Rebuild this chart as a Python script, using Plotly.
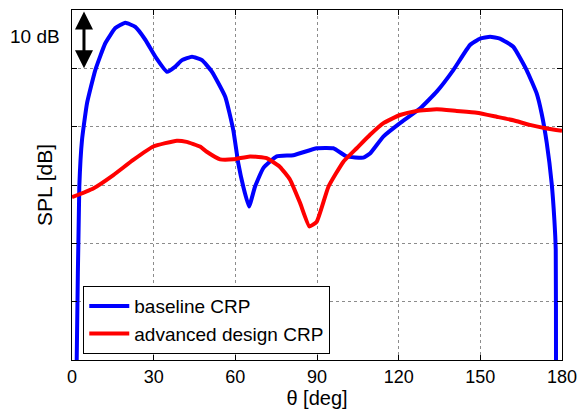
import plotly.graph_objects as go

# Directivity of the sound pressure level over polar angle (relative dB, 10 dB per grid step)
theta_baseline = [1.65, 1.73, 2.68, 3.67, 5.51, 8.56, 12.23, 15.91, 19.58, 23.25, 26.93, 30.60,
                  34.90, 37.95, 40.41, 44.08, 47.76, 51.43, 56.32, 59.25, 61.09, 62.93, 65.02,
                  67.22, 70.27, 75.20, 81.30, 89.89, 95.99, 100.91, 107.01, 109.47, 114.36,
                  120.49, 127.84, 133.97, 140.07, 146.2, 149.9, 153.6, 157.2, 162.1, 167.0,
                  170.7, 172.5, 174.4, 176.2, 177.2, 177.7, 177.8, 177.9]
spl_baseline = [-7, 0, 29.7, 37.7, 44.0, 49.7, 54.3, 56.9, 57.8, 57.1, 54.9, 52.0,
                49.4, 50.3, 51.4, 52.0, 51.4, 49.4, 45.1, 39.4, 33.7, 29.7, 26.3,
                29.7, 32.9, 34.9, 35.1, 36.3, 36.3, 34.9, 34.7, 35.4, 38.3,
                40.6, 43.1, 46.0, 49.7, 54.0, 55.1, 55.4, 55.1, 53.7, 49.7,
                45.7, 42.3, 37.2, 30.3, 24.0, 18.9, 0, -10]

theta_advanced = [0, 7.8, 15.2, 22.5, 29.9, 38.5, 42.1, 47.0, 49.5, 54.4, 59.3, 65.4, 71.5,
                  76.4, 80.1, 83.8, 87.2, 89.9, 94.2, 99.7, 104.6, 109.5, 114.4, 120.5,
                  126.6, 134.0, 141.3, 148.7, 156.0, 162.1, 168.2, 174.4, 180]
spl_advanced = [27.9, 29.4, 31.7, 34.3, 36.6, 37.6, 37.4, 36.6, 35.7, 34.4, 34.4, 34.9, 34.6,
                33.1, 30.9, 26.9, 22.9, 23.7, 29.7, 34.0, 36.3, 38.6, 40.6, 42.0,
                42.7, 43.0, 42.7, 42.4, 41.7, 41.1, 40.3, 39.7, 39.3]

x_ticks = [0, 30, 60, 90, 120, 150, 180]
y_grid = [0, 10, 20, 30, 40, 50, 60]

FONT = "Liberation Sans, Arial, Helvetica, sans-serif"

fig = go.Figure()
fig.add_trace(go.Scatter(x=theta_baseline, y=spl_baseline, mode="lines",
                         name="baseline CRP",
                         line=dict(color="#0000ff", width=4, shape="spline", smoothing=0.4)))
fig.add_trace(go.Scatter(x=theta_advanced, y=spl_advanced, mode="lines",
                         name="advanced design CRP",
                         line=dict(color="#ff0000", width=4, shape="spline", smoothing=0.4)))

axis_common = dict(showline=True, linecolor="black", linewidth=1, mirror="ticks",
                   ticks="inside", ticklen=5, tickcolor="black",
                   showgrid=True, gridcolor="#8c8c8c", griddash="dot", gridwidth=1,
                   zeroline=False, automargin=False)

fig.update_xaxes(range=[0, 180], tickvals=x_ticks, ticktext=[str(v) for v in x_ticks],
                 tickfont=dict(size=18, color="black"),
                 title=dict(text="θ [deg]", font=dict(size=20, color="black"), standoff=0),
                 **axis_common)
fig.update_yaxes(range=[0, 60], tickvals=y_grid, showticklabels=False,
                 title=dict(text="SPL [dB]", font=dict(size=21, color="black"), standoff=12),
                 **axis_common)

# 10 dB scale arrow
fig.add_annotation(x=4.4, y=50, ax=4.4, ay=60, xref="x", yref="y", axref="x", ayref="y",
                   text="", showarrow=True, arrowhead=2, startarrowhead=2,
                   arrowside="end+start", arrowsize=1.2, startarrowsize=1.2,
                   arrowwidth=3, arrowcolor="black")
fig.add_annotation(x=-0.02, y=55.4, xref="paper", yref="y", text="10 dB", showarrow=False,
                   xanchor="right", yanchor="middle", font=dict(size=19, color="black"))

fig.update_layout(
    width=579, height=414,
    margin=dict(l=72, r=17, t=10, b=54),
    paper_bgcolor="white", plot_bgcolor="white",
    font=dict(family=FONT, color="black"),
    showlegend=True,
    legend=dict(x=0.023, y=0.017, xanchor="left", yanchor="bottom",
                bgcolor="white", bordercolor="black", borderwidth=1,
                font=dict(size=19, color="black"), tracegroupgap=0,
                itemwidth=40),
)

fig.write_html("out.html")
